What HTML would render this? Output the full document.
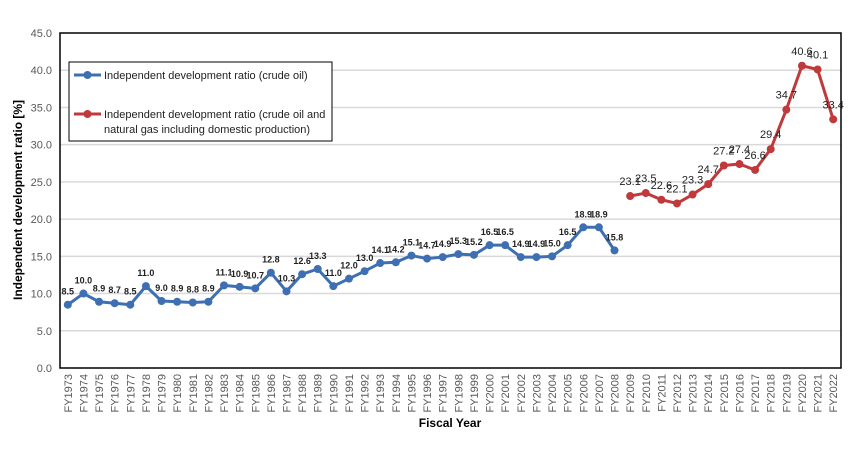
<!DOCTYPE html>
<html><head><meta charset="utf-8">
<style>
html,body{margin:0;padding:0;background:#fff;}
svg{display:block;font-family:"Liberation Sans",sans-serif;}
</style></head>
<body>
<svg id="chart" width="852" height="450" viewBox="0 0 852 450" xmlns="http://www.w3.org/2000/svg"></svg>
<script>
const categories = [];
for (let y = 1973; y <= 2022; y++) categories.push('FY' + y);
const oilYears = ['FY1973','FY1974','FY1975','FY1976','FY1977','FY1978','FY1979','FY1980','FY1981','FY1982','FY1983','FY1984','FY1985','FY1986','FY1987','FY1988','FY1989','FY1990','FY1991','FY1992','FY1993','FY1994','FY1995','FY1996','FY1997','FY1998','FY1999','FY2000','FY2001','FY2002','FY2003','FY2004','FY2005','FY2006','FY2007','FY2008'];
const oilValues = [8.5,10.0,8.9,8.7,8.5,11.0,9.0,8.9,8.8,8.9,11.1,10.9,10.7,12.8,10.3,12.6,13.3,11.0,12.0,13.0,14.1,14.2,15.1,14.7,14.9,15.3,15.2,16.5,16.5,14.9,14.9,15.0,16.5,18.9,18.9,15.8];
const gasYears = ['FY2009','FY2010','FY2011','FY2012','FY2013','FY2014','FY2015','FY2016','FY2017','FY2018','FY2019','FY2020','FY2021','FY2022'];
const gasValues = [23.1,23.5,22.6,22.1,23.3,24.7,27.2,27.4,26.6,29.4,34.7,40.6,40.1,33.4];
const yTicks = [0,5,10,15,20,25,30,35,40,45];

const svg = document.getElementById('chart');
const NS = 'http://www.w3.org/2000/svg';
const L = 60, R = 841, T = 33, B = 368, YMAX = 45;
const step = (R - L) / categories.length;
function xPos(cat){ return L + step * (categories.indexOf(cat) + 0.5); }
function yPos(v){ return B - (v / YMAX) * (B - T); }
function mk(tag, attrs, parent){
  const e = document.createElementNS(NS, tag);
  for (const k in attrs) e.setAttribute(k, attrs[k]);
  (parent || svg).appendChild(e);
  return e;
}

// gridlines + y ticks
const gridG = mk('g', {});


yTicks.forEach(t => {
  const y = yPos(t);
  if (t > 0 && t < YMAX) {
    const gl = mk('line', {x1:L, x2:R, y1:y, y2:y, stroke:'#d9d9d9', 'stroke-width':1.5}, gridG);
    
    
  }
  const tx = mk('text', {x:L-8, y:y+4, 'text-anchor':'end', 'font-size':11, fill:'#595959'});
  tx.textContent = t.toFixed(1);
  
  
});

// frame
const frame = mk('rect', {x:L, y:T, width:R-L, height:B-T, fill:'none', stroke:'#000', 'stroke-width':1.5});



// x tick labels
categories.forEach(c => {
  const x = xPos(c);
  const tx = mk('text', {x:0, y:0, 'text-anchor':'end', 'font-size':11, fill:'#595959', transform:'translate(' + (x+4) + ',' + (B+6) + ') rotate(-90)'});
  tx.textContent = c;
  
  
});

function series(years, vals, color, name, labelSize, bold, labelDy){
  const g = mk('g', {});
  
  
  const pts = years.map((yr, i) => xPos(yr) + ',' + yPos(vals[i])).join(' ');
  const pl = mk('polyline', {points:pts, fill:'none', stroke:color, 'stroke-width':3, 'stroke-linejoin':'round'}, g);
  
  
  years.forEach((yr, i) => {
    const x = xPos(yr), y = yPos(vals[i]);
    const c = mk('circle', {cx:x, cy:y, r:4, fill:color}, g);
    
    
    const t = mk('text', {x:x, y:y-labelDy, 'text-anchor':'middle', 'font-size':labelSize, 'font-weight':bold?'bold':'normal', fill:'#222'}, g);
    t.textContent = vals[i].toFixed(1);
    
    
  });
}
series(oilYears, oilValues, '#3d6fb2', 'crude-oil-series', 9, true, 10);
series(gasYears, gasValues, '#c0393b', 'oil-gas-series', 11, false, 11);

// legend
const lg = mk('g', {});


const lr = mk('rect', {x:69, y:62, width:263, height:79, fill:'#fff', stroke:'#000', 'stroke-width':1}, lg);


[['#3d6fb2', 75, ['Independent development ratio (crude oil)'], 'legend-entry-crude-oil'],
 ['#c0393b', 114, ['Independent development ratio (crude oil and','natural gas including domestic production)'], 'legend-entry-oil-gas']].forEach(e => {
  const eg = mk('g', {}, lg);
  
  
  mk('line', {x1:74, x2:101, y1:e[1], y2:e[1], stroke:e[0], 'stroke-width':3}, eg);
  mk('circle', {cx:87.5, cy:e[1], r:4, fill:e[0]}, eg);
  e[2].forEach((s, i) => {
    const t = mk('text', {x:104, y:e[1]+4+i*15, 'font-size':11, fill:'#222'}, eg);
    t.textContent = s;
  });
});

// axis titles
const yt = mk('text', {x:0, y:0, 'text-anchor':'middle', 'font-size':12, 'font-weight':'bold', fill:'#000', transform:'translate(22,200) rotate(-90)'});
yt.textContent = 'Independent development ratio [%]';


const xt = mk('text', {x:450, y:427, 'text-anchor':'middle', 'font-size':12, 'font-weight':'bold', fill:'#000'});
xt.textContent = 'Fiscal Year';


</script>
</body></html>
